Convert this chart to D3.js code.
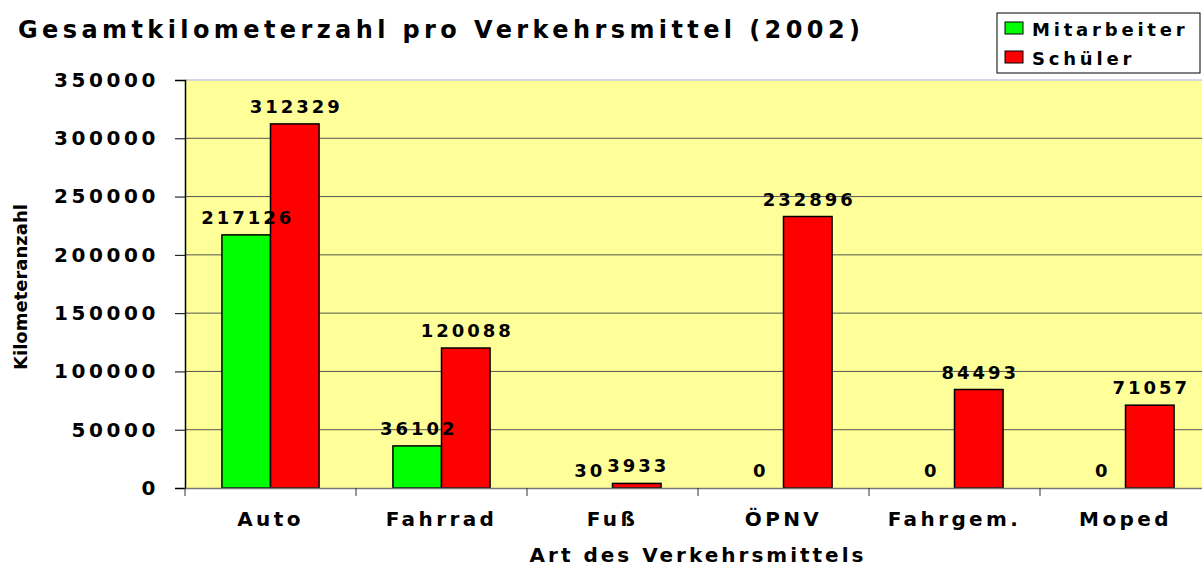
<!DOCTYPE html>
<html>
<head>
<meta charset="utf-8">
<script src="https://cdn.jsdelivr.net/npm/d3@7"></script>
<style>
    body { margin: 0; background: #fff; }
    text { font-family: "DejaVu Sans", Verdana, sans-serif; font-weight: bold; fill: #000; }
</style>
</head>
<body>
<svg id="chart" width="1202" height="566"></svg>
<script>
'use strict';

var categories = ['Auto', 'Fahrrad', 'Fuß', 'ÖPNV', 'Fahrgem.', 'Moped'];
var seriesNames = ['Mitarbeiter', 'Schüler'];
var mitarbeiter = [217126, 36102, 30, 0, 0, 0];
var schueler = [312329, 120088, 3933, 232896, 84493, 71057];
var yTicks = [0, 50000, 100000, 150000, 200000, 250000, 300000, 350000];
var colors = ['#00ff00', '#ff0000'];

var LEFT = 185, RIGHT = 1211, TOP = 80, BOTTOM = 488;

var svg = d3.select('#chart');

var x = d3.scaleBand().domain(categories).range([LEFT, RIGHT]);
var xs = d3.scaleBand().domain(seriesNames).range([0, x.bandwidth()]).paddingInner(0).paddingOuter(0.76);
var y = d3.scaleLinear().domain([0, 350000]).range([BOTTOM, TOP]);

// plot background
svg.append('rect').attr('x', LEFT).attr('y', TOP).attr('width', RIGHT - LEFT).attr('height', BOTTOM - TOP)
    .attr('fill', '#ffff99');
svg.append('line').attr('x1', LEFT).attr('x2', RIGHT).attr('y1', TOP).attr('y2', TOP)
    .attr('stroke', '#c8c8e8').attr('stroke-width', 1.5);

// gridlines
svg.append('g').selectAll('line').data(yTicks.slice(1, -1)).enter().append('line')
    .attr('x1', LEFT).attr('x2', RIGHT)
    .attr('y1', function (d) { return y(d); }).attr('y2', function (d) { return y(d); })
    .attr('stroke', '#555').attr('stroke-width', 1);

// bars
var rows = categories.map(function (c, i) {
    return { cat: c, values: [mitarbeiter[i], schueler[i]] };
});
var groups = svg.append('g').selectAll('g').data(rows).enter().append('g')
    .attr('transform', function (d) { return 'translate(' + x(d.cat) + ',0)'; });

groups.selectAll('rect').data(function (d) { return d.values; }).enter().append('rect')
    .attr('x', function (d, i) { return xs(seriesNames[i]); })
    .attr('width', xs.bandwidth())
    .attr('y', function (d) { return y(d); })
    .attr('height', function (d) { return BOTTOM - y(d); })
    .attr('fill', function (d, i) { return colors[i]; })
    .attr('stroke', function (d) { return d > 1000 ? '#000' : 'none'; })
    .attr('stroke-width', 1.5);

// value labels
groups.selectAll('text').data(function (d) { return d.values; }).enter().append('text')
    .attr('x', function (d, i) { return xs(seriesNames[i]) + xs.bandwidth() / 2 + 1.5; })
    .attr('y', function (d) { return y(d) - 11; })
    .attr('text-anchor', 'middle')
    .attr('font-size', 18).attr('letter-spacing', 3)
    .text(function (d) { return d; });

// y axis
var yAxis = svg.append('g').attr('transform', 'translate(' + LEFT + ',0)')
    .call(d3.axisLeft(y).tickValues(yTicks).tickSize(10).tickPadding(16).tickFormat(d3.format('d')));
yAxis.select('.domain').attr('stroke', '#000').attr('stroke-width', 1.5);
yAxis.selectAll('.tick line').attr('stroke', '#000');
yAxis.selectAll('.tick text').attr('font-size', 20).attr('letter-spacing', 3.6)
    .attr('font-family', '"DejaVu Sans", sans-serif').attr('font-weight', 'bold');

// x axis
var xAxis = svg.append('g').attr('transform', 'translate(0,' + BOTTOM + ')')
    .call(d3.axisBottom(x).tickSize(0).tickPadding(24));
xAxis.select('.domain').attr('stroke', '#777').attr('stroke-width', 1.5);
xAxis.selectAll('.tick text').attr('font-size', 20).attr('letter-spacing', 3.4)
    .attr('font-family', '"DejaVu Sans", sans-serif').attr('font-weight', 'bold');
svg.append('g').selectAll('line').data(categories).enter().append('line')
    .attr('x1', function (d) { return x(d); }).attr('x2', function (d) { return x(d); })
    .attr('y1', BOTTOM).attr('y2', BOTTOM + 8).attr('stroke', '#333');

// titles
svg.append('text').attr('x', 18).attr('y', 38).attr('font-size', 24).attr('letter-spacing', 4.4)
    .text('Gesamtkilometerzahl pro Verkehrsmittel (2002)');
svg.append('text').attr('x', 698).attr('y', 562).attr('text-anchor', 'middle')
    .attr('font-size', 20).attr('letter-spacing', 3).text('Art des Verkehrsmittels');
svg.append('text').attr('transform', 'translate(27,287) rotate(-90)').attr('text-anchor', 'middle')
    .attr('font-size', 18).text('Kilometeranzahl');

// legend
var legend = svg.append('g').attr('transform', 'translate(997,13)');
legend.append('rect').attr('width', 203).attr('height', 60).attr('fill', '#fff').attr('stroke', '#000');
var items = legend.selectAll('g').data(seriesNames).enter().append('g')
    .attr('transform', function (d, i) { return 'translate(8,' + (9 + i * 29) + ')'; });
items.append('rect').attr('width', 18).attr('height', 12)
    .attr('fill', function (d, i) { return colors[i]; }).attr('stroke', '#000');
items.append('text').attr('x', 27).attr('y', 14).attr('font-size', 18).attr('letter-spacing', 3.8)
    .text(function (d) { return d; });
</script>
</body>
</html>
